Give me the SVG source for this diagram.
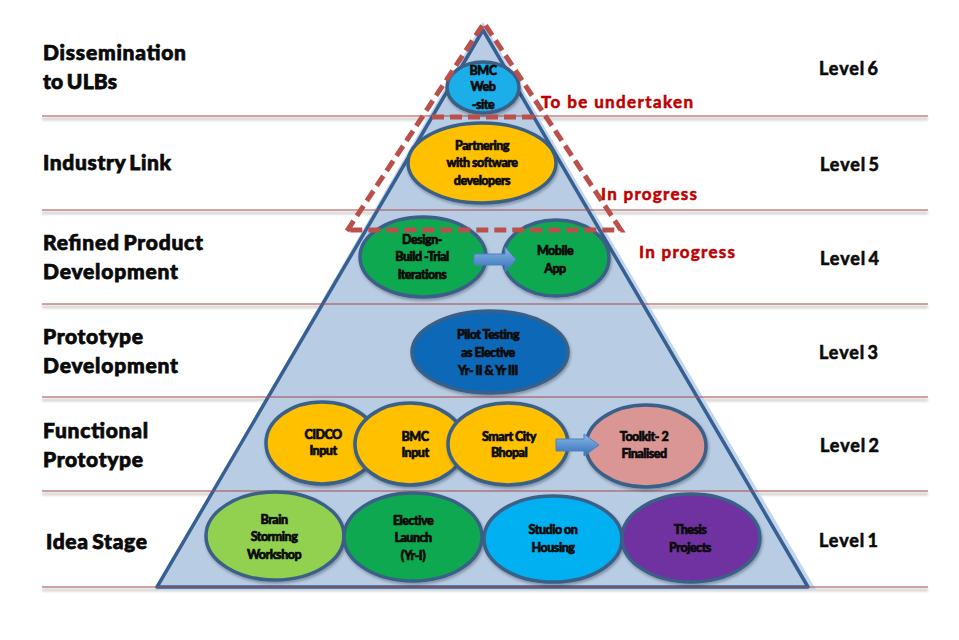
<svg xmlns="http://www.w3.org/2000/svg" width="959" height="640" viewBox="0 0 959 640">
<style>
text{font-family:"Lato","Open Sans","Liberation Sans",sans-serif;font-weight:900;fill:#0a0a0a}
.h{font-size:21px;stroke:#0a0a0a;stroke-width:.75px;word-spacing:-2px}
.lv{font-size:18px;font-weight:700;stroke:#0a0a0a;stroke-width:.6px;word-spacing:-3px}
.r{font-size:17px;font-weight:700;fill:#c00000;stroke:#c00000;stroke-width:.55px}
.n{font-size:12.5px;text-anchor:middle;stroke:#0a0a0a;stroke-width:.65px;letter-spacing:-.5px}
.e{stroke:#3a6088;stroke-width:3.5px;filter:url(#sh)}
.ln{stroke:#a84a4a;stroke-width:1.2px;fill:none}
.ls{stroke:#d4d4d4;stroke-width:3px;fill:none;filter:url(#bl)}
.d{fill:none;stroke:#b9504c;stroke-width:5px;stroke-dasharray:12 6}
.ar{fill:url(#ag);stroke:#4f81bd;stroke-width:1px}
</style>
<defs>
<filter id="sh" x="-10%" y="-10%" width="125%" height="125%"><feDropShadow dx="1" dy="2" stdDeviation="1.5" flood-color="#000" flood-opacity=".3"/></filter>
<filter id="bl" x="-5%" y="-500%" width="110%" height="1100%"><feGaussianBlur stdDeviation="1.2"/></filter>
<linearGradient id="ag" x1="0" y1="0" x2="0" y2="1"><stop offset="0" stop-color="#8db8e8"/><stop offset="1" stop-color="#2f6fb8"/></linearGradient>
</defs>
<rect width="959" height="640" fill="#fff"/>
<g id="levels-shadow">
<path class="ls" d="M42 119H928M42 213H928M42 307H928M42 400H928M42 494H928M42 590H928"/>
</g>
<g id="pyramid">
<path d="M483 28L160 587H811Z" fill="none" stroke="#c3d6ec" stroke-width="6"/>
<path d="M483 30L157 587H808Z" fill="#b8cce4" stroke="#376092" stroke-width="3.5" stroke-linejoin="round"/>
</g>
<g id="levels">
<path class="ln" d="M42 116H928M42 210H928M42 304H928M42 397H928M42 491H928M42 587H928"/>
</g>
<g id="n-bmc-web"><ellipse class="e" cx="483" cy="87.500" rx="36" ry="25.500" fill="#1eaee8"/><text class="n" x="483" y="75">BMC</text><text class="n" x="483" y="91">Web</text><text class="n" x="483" y="109">-site</text></g>
<g id="n-partnering"><ellipse class="e" cx="482" cy="163" rx="74" ry="40" fill="#ffc000"/><text class="n" x="482" y="150">Partnering</text><text class="n" x="482" y="167">with software</text><text class="n" x="482" y="185">developers</text></g>
<g id="n-design"><ellipse class="e" cx="423" cy="257" rx="63" ry="40" fill="#0fa84f"/><text class="n" x="422" y="244">Design-</text><text class="n" x="422" y="261">Build -Trial</text><text class="n" x="422" y="279">Iterations</text></g>
<g id="n-mobile"><ellipse class="e" cx="556" cy="258" rx="53" ry="38" fill="#0fa84f"/><text class="n" x="555" y="255">Mobile</text><text class="n" x="555" y="273">App</text></g>
<g id="n-pilot"><ellipse class="e" cx="490" cy="352" rx="78" ry="41" fill="#0a68b8"/><text class="n" x="488" y="339">Pilot Testing</text><text class="n" x="488" y="357">as Elective</text><text class="n" x="488" y="375">Yr- II &amp; Yr III</text></g>
<g id="n-cidco"><ellipse class="e" cx="322" cy="443" rx="56" ry="41" fill="#ffc000"/><text class="n" x="323" y="439">CIDCO</text><text class="n" x="323" y="455">Input</text></g>
<g id="n-bmc"><ellipse class="e" cx="410" cy="444" rx="55" ry="41" fill="#ffc000"/><text class="n" x="415" y="441">BMC</text><text class="n" x="415" y="457">Input</text></g>
<g id="n-smart"><ellipse class="e" cx="508" cy="444" rx="60" ry="41" fill="#ffc000"/><text class="n" x="509" y="441">Smart City</text><text class="n" x="509" y="457">Bhopal</text></g>
<g id="n-toolkit"><ellipse class="e" cx="646" cy="446" rx="60" ry="41" fill="#d99694"/><text class="n" x="644" y="441">Toolkit- 2</text><text class="n" x="644" y="458">Finalised</text></g>
<g id="n-brain"><ellipse class="e" cx="275" cy="536" rx="69" ry="44" fill="#92d050"/><text class="n" x="274" y="524">Brain</text><text class="n" x="274" y="541">Storming</text><text class="n" x="274" y="559">Workshop</text></g>
<g id="n-elective"><ellipse class="e" cx="413" cy="537" rx="69" ry="44" fill="#0fa84f"/><text class="n" x="413" y="525">Elective</text><text class="n" x="413" y="542">Launch</text><text class="n" x="413" y="560">(Yr-I)</text></g>
<g id="n-studio"><ellipse class="e" cx="553" cy="539" rx="69" ry="43" fill="#00b0f0"/><text class="n" x="553" y="534">Studio on</text><text class="n" x="553" y="552">Housing</text></g>
<g id="n-thesis"><ellipse class="e" cx="691" cy="538" rx="69" ry="44" fill="#7030a0"/><text class="n" x="690" y="534">Thesis</text><text class="n" x="690" y="552">Projects</text></g>
<g id="connectors">
<path class="ar" d="M474 254H505V247L516 259.500L505 272V265H474Z"/>
<path class="ar" d="M556 439H584V434L599 445L584 456V451H556Z"/>
</g>
<g id="boundaries">
<path class="d" d="M347 231L484 23L621 230H350"/>
<path class="d" d="M432 117H538"/>
</g>
<g id="left-labels">
<text class="h" x="43" y="60" textLength="143">Dissemination</text>
<text class="h" x="43" y="89" textLength="74">to ULBs</text>
<text class="h" x="43" y="170" textLength="128">Industry Link</text>
<text class="h" x="43" y="250" textLength="160">Refined Product</text>
<text class="h" x="43" y="279" textLength="135">Development</text>
<text class="h" x="43" y="344" textLength="100">Prototype</text>
<text class="h" x="43" y="373" textLength="135">Development</text>
<text class="h" x="43" y="438" textLength="105">Functional</text>
<text class="h" x="43" y="467" textLength="100">Prototype</text>
<text class="h" x="46" y="549" textLength="101">Idea Stage</text>
</g>
<g id="right-labels">
<text class="lv" x="819" y="75" textLength="59">Level 6</text>
<text class="lv" x="820" y="171" textLength="59">Level 5</text>
<text class="lv" x="820" y="265" textLength="59">Level 4</text>
<text class="lv" x="819" y="359" textLength="59">Level 3</text>
<text class="lv" x="820" y="452" textLength="59">Level 2</text>
<text class="lv" x="819" y="547" textLength="59">Level 1</text>
</g>
<g id="status-labels">
<text class="r" x="541" y="108" textLength="152">To be undertaken</text>
<text class="r" x="601" y="200" textLength="96">In progress</text>
<text class="r" x="639" y="258" textLength="96">In progress</text>
</g>
</svg>
